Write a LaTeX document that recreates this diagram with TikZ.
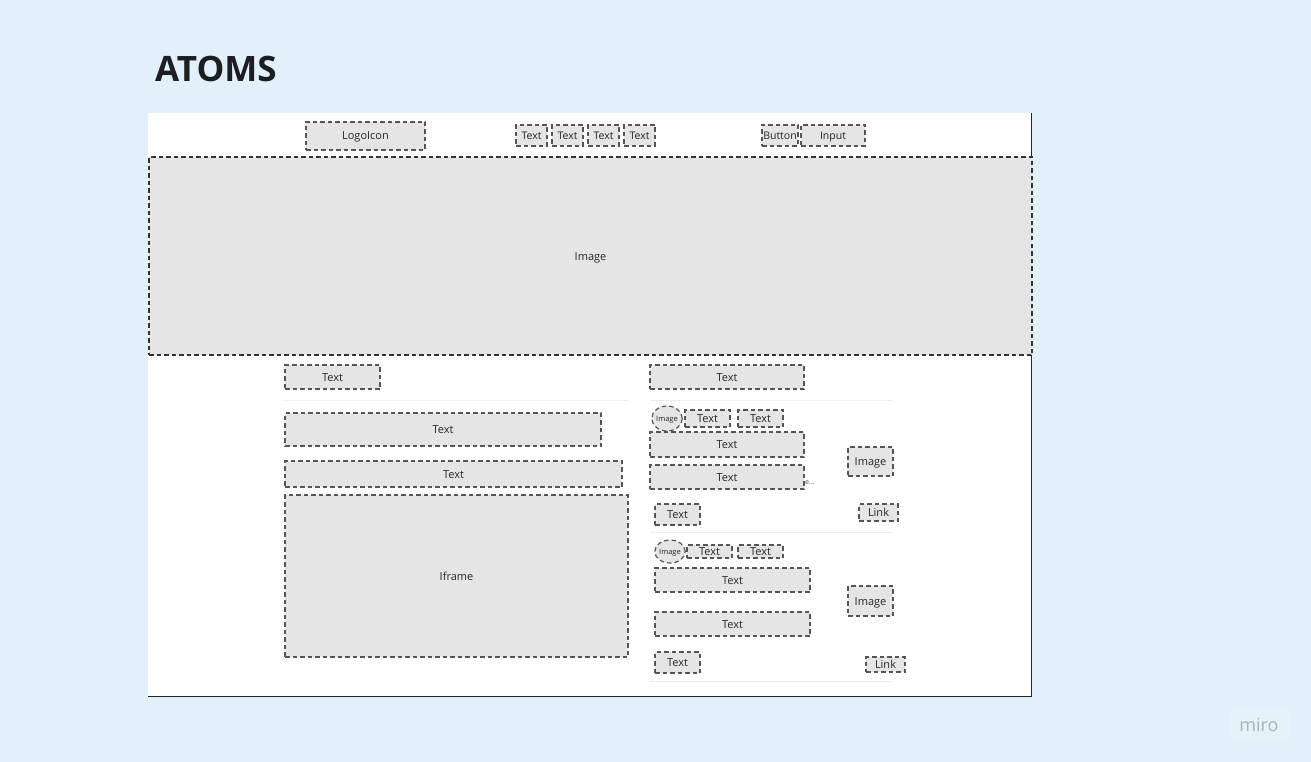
\documentclass[tikz,border=0pt]{standalone}
\usepackage{fontspec}
\setmainfont{Open Sans}
\usetikzlibrary{shapes.geometric}
\definecolor{bgblue}{RGB}{226,240,250}
\definecolor{boxfill}{RGB}{229,229,229}
\definecolor{boxline}{RGB}{85,85,85}
\definecolor{sepline}{RGB}{236,236,236}
\definecolor{titlecol}{RGB}{30,30,34}
\definecolor{mirogray}{RGB}{170,178,190}
\tikzset{
  box/.style={draw=boxline, fill=boxfill, line width=1.2pt, dash pattern=on 4.5pt off 3pt,
    inner sep=0pt, font=\fontsize{11}{13}\selectfont, text=black!85,
    text height=9pt, text depth=1pt},
  smallbox/.style={box, font=\fontsize{10.5}{12}\selectfont},
  roundimg/.style={box, ellipse, font=\fontsize{7.5}{9}\selectfont, text height=6pt, text depth=1pt},
  bigimg/.style={box, draw=black!80},
  sep/.style={draw=sepline, line width=1pt},
}
% place a box by its corners: #1 name, #2 style, #3 x0, #4 y0, #5 x1, #6 y1, #7 text
\newcommand{\wirebox}[7]{%
  \pgfmathsetmacro{\bw}{#5-#3}\pgfmathsetmacro{\bh}{#6-#4}%
  \node[#2, minimum width=\bw pt, minimum height=\bh pt] (#1) at ({(#3+#5)/2},{(#4+#6)/2}) {#7};}
\begin{document}
\begin{tikzpicture}[x=1pt,y=-1pt]
  % canvas
  \fill[bgblue] (0,0) rectangle (1311,762);
  \useasboundingbox (0,0) rectangle (1311,762);
  % title
  \node[anchor=base west, font=\fontsize{35}{38}\selectfont\bfseries, text=titlecol, inner sep=0pt] (title) at (155,82) {ATOMS};
  % page frame
  \fill[white] (148,113) rectangle (1032,697);
  \draw[black!85, line width=1.3pt] (1031.5,113) -- (1031.5,696.5) -- (148,696.5);

  % header bar
  \wirebox{logo}{box}{306}{122}{425}{150}{LogoIcon}
  \wirebox{nav1}{smallbox}{516}{125}{547}{146}{Text}
  \wirebox{nav2}{smallbox}{552}{125}{583}{146}{Text}
  \wirebox{nav3}{smallbox}{588}{125}{619}{146}{Text}
  \wirebox{nav4}{smallbox}{624}{125}{655}{146}{Text}
  \wirebox{button}{smallbox}{762}{125}{798}{146}{Button}
  \wirebox{input}{smallbox}{801}{125}{865}{146}{Input}

  % hero image
  \wirebox{hero}{bigimg}{149}{157}{1032}{355}{Image}

  % left column
  \wirebox{ltitle}{box}{285}{365}{380}{389}{Text}
  \draw[sep] (285,400) -- (628,400);
  \wirebox{lhead}{box}{285}{413}{601}{446}{Text}
  \wirebox{lsub}{box}{285}{461}{622}{487}{Text}
  \wirebox{iframe}{box}{285}{495}{628}{657}{Iframe}

  % right column
  \wirebox{rtitle}{box}{650}{365}{804}{389}{Text}
  \draw[sep] (650,400) -- (892,400);

  % first card
  \wirebox{avatarA}{roundimg}{652}{406}{682}{431}{Image}
  \wirebox{tagA1}{box}{685}{410}{730}{427}{Text}
  \wirebox{tagA2}{box}{738}{410}{783}{427}{Text}
  \wirebox{headA}{box}{650}{432}{804}{457}{Text}
  \wirebox{bodyA}{box}{650}{465}{804}{489}{Text}
  \node[font=\fontsize{7}{8}\selectfont, text=black!70, inner sep=0pt, anchor=west] (moreA) at (805,483) {e...};
  \wirebox{thumbA}{box}{848}{447}{893}{476}{Image}
  \wirebox{dateA}{box}{655}{504}{700}{525}{Text}
  \wirebox{linkA}{box}{859}{504}{898}{521}{Link}
  \draw[sep] (650,532) -- (892,532);

  % second card
  \wirebox{avatarB}{roundimg}{656}{540}{684}{563}{Image}
  \wirebox{tagB1}{box}{687}{545}{732}{558}{Text}
  \wirebox{tagB2}{box}{738}{545}{783}{558}{Text}
  \wirebox{headB}{box}{655}{568}{810}{592}{Text}
  \wirebox{thumbB}{box}{848}{586}{893}{616}{Image}
  \wirebox{bodyB}{box}{655}{612}{810}{636}{Text}
  \wirebox{dateB}{box}{655}{652}{700}{673}{Text}
  \wirebox{linkB}{box}{866}{657}{905}{672}{Link}
  \draw[sep] (650,681) -- (892,681);

  % watermark
  \fill[white, opacity=0.15, rounded corners=2pt] (1230,710) rectangle (1290,741);
  \node[font=\fontsize{18}{20}\selectfont, text=mirogray, inner sep=0pt] (miro) at (1259,725) {miro};
\end{tikzpicture}
\end{document}
